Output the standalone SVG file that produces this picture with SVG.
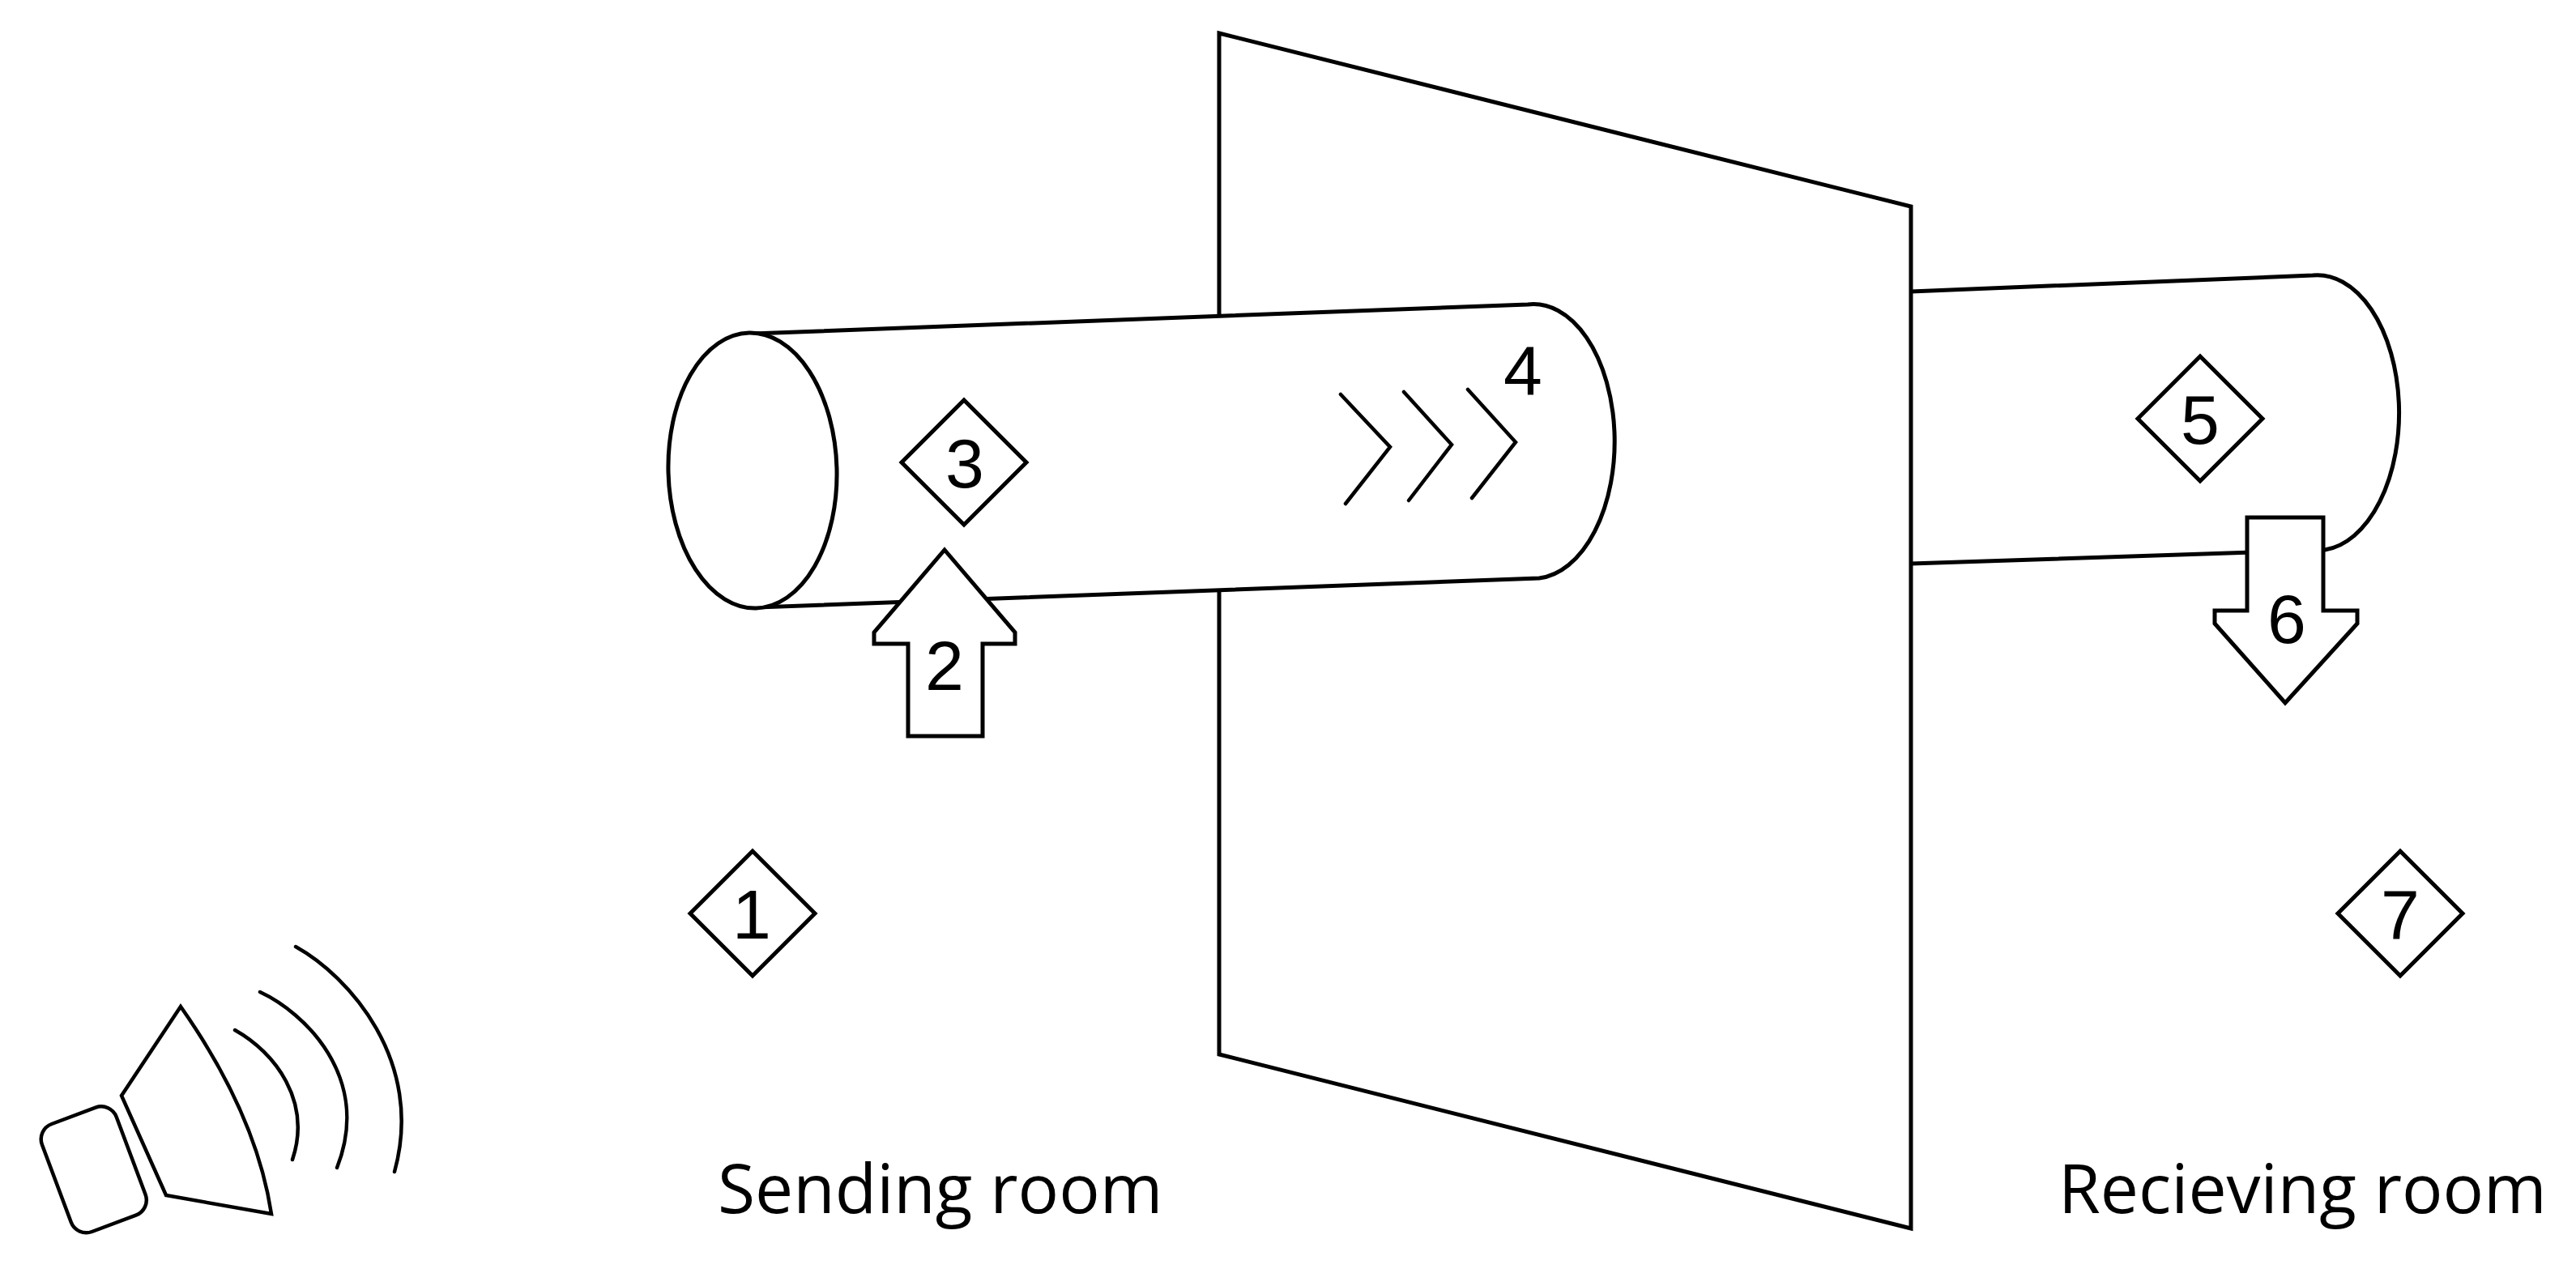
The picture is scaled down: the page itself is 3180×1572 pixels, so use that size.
<svg xmlns="http://www.w3.org/2000/svg" width="3180" height="1572" viewBox="0 0 3180 1572">
<style>
.s{fill:#fff;stroke:#000;stroke-width:5;stroke-linejoin:miter}
.l{fill:none;stroke:#000;stroke-width:4.5;stroke-linecap:round}
.n{font-family:"Liberation Sans",Arial,sans-serif;font-size:86px;fill:#000;text-anchor:middle}
.t{font-family:"Open Sans","Noto Sans",sans-serif;font-size:84px;fill:#000}
</style>
<rect width="3180" height="1572" fill="#fff"/>
<g id="speaker">
<rect class="l" x="0" y="0" width="98" height="142" rx="20" transform="translate(45 1395) rotate(-20.5)"/>
<path class="l" d="M223 1243L150 1353L205 1476L335 1499C320 1400 270 1310 223 1243Z"/>
<path class="l" d="M290 1272C340 1300 385 1360 361 1432"/>
<path class="l" d="M321 1225C375 1250 460 1330 416 1442"/>
<path class="l" d="M365 1169C430 1205 525 1310 487 1447"/>
</g>
<g id="pipe-back"><path class="s" d="M2359 360L2855 340A101 170 0 0 1 2870 679L2359 696"/></g>
<g id="wall"><path class="s" d="M1505 41L2359 255L2359 1517L1505 1302Z"/></g>
<g id="pipe-front">
<path class="s" d="M929 412L1886 376A100 169 0 0 1 1900 714L937 750Z"/>
<ellipse class="s" cx="929" cy="581" rx="104" ry="170" transform="rotate(-1.5 929 581)"/>
</g>
<g id="flow">
<path class="l" d="M1655 487L1716 552L1661 622"/>
<path class="l" d="M1733 484L1792 549L1739 618"/>
<path class="l" d="M1812 481L1871 546L1817 615"/>
</g>
<g id="label-1"><path class="s" d="M929 1051L1006 1128L929 1205L852 1128Z"/><text class="n" x="928" y="1159">1</text></g>
<g id="arrow-2"><path class="s" d="M1166 679L1253 781L1253 795L1213 795L1213 909L1121 909L1121 795L1079 795L1079 781Z"/><text class="n" x="1166" y="852">2</text></g>
<g id="label-3"><path class="s" d="M1190 494L1267 571L1190 648L1113 571Z"/><text class="n" x="1191" y="602">3</text></g>
<g id="label-4"><text class="n" x="1880" y="487">4</text></g>
<g id="label-5"><path class="s" d="M2716 440L2793 517L2716 594L2639 517Z"/><text class="n" x="2716" y="548">5</text></g>
<g id="arrow-6"><path class="s" d="M2774 639L2868 639L2868 754L2910 754L2910 770L2821 868L2734 770L2734 754L2774 754Z"/><text class="n" x="2823" y="794">6</text></g>
<g id="label-7"><path class="s" d="M2963 1051L3040 1128L2963 1205L2886 1128Z"/><text class="n" x="2963" y="1159">7</text></g>
<text class="t" x="886" y="1498">Sending room</text>
<text class="t" x="2541" y="1498">Recieving room</text>
</svg>
